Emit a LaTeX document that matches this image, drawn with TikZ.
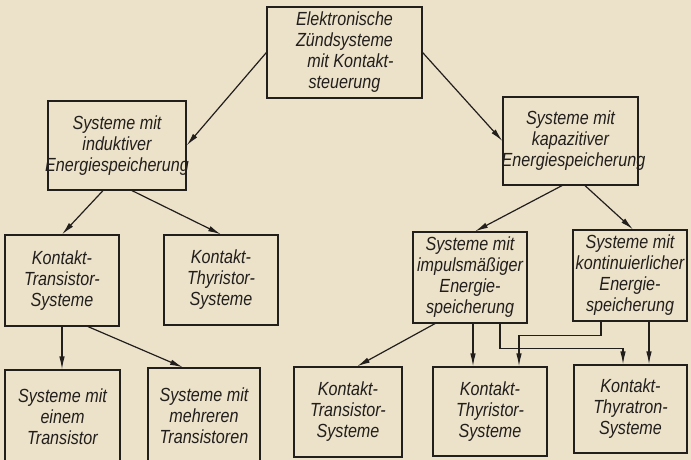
\documentclass[tikz,border=0pt]{standalone}
\usepackage{fontspec}
\setmainfont{Liberation Sans}[FakeStretch=0.85]
\usepackage{tikz}
\usetikzlibrary{arrows.meta, calc}

\definecolor{paper}{RGB}{236,226,202}
\definecolor{ink}{RGB}{34,30,28}

\newcommand{\wideword}[1]{\makebox[128pt][c]{#1}}

\begin{document}
\begin{tikzpicture}[x=1pt, y=-1pt,
    box/.style 2 args={draw=ink, line width=1.2pt, minimum width=#1, minimum height=#2,
        inner sep=0pt, align=center, text=ink,
        font=\fontsize{19}{21}\selectfont\itshape},
    arr/.style={draw=ink, line width=1.2pt, -{Latex[length=13pt, width=5.5pt]}}]
        % Paper and frame
        \fill[paper] (0,0) rectangle (691,460);
        \useasboundingbox (0,0) rectangle (691,460);
        \clip (0,0) rectangle (691,460);

        % Top level
        \node[box={155pt}{91pt}] (top) at (344.5,52.5) {Elektronische\\Zündsysteme\\\hspace*{12pt}mit Kontakt-\\steuerung};

        % Second level
        \node[box={138pt}{89pt}] (ind) at (117,145.5) {Systeme mit\\induktiver\\\wideword{Energiespeicherung}};
        \node[box={135pt}{88pt}] (kap) at (570.5,141) {Systeme mit\\kapazitiver\\\wideword{\hspace*{6pt}Energiespeicherung}};

        % Third level
        \node[box={114pt}{91pt}] (ktsL) at (62,280.5) {Kontakt-\\Transistor-\\Systeme};
        \node[box={114pt}{90pt}] (kthyL) at (221,280) {Kontakt-\\Thyristor-\\Systeme};
        \node[box={114pt}{91pt}] (imp) at (470,277.5) {Systeme mit\\impulsmäßiger\\Energie-\\speicherung};
        \node[box={114pt}{91pt}] (kont) at (630,275.5) {Systeme mit\\kontinuierlicher\\Energie-\\speicherung};

        % Bottom level
        \node[box={115pt}{94pt}] (einem) at (62.5,417) {Systeme mit\\einem\\Transistor};
        \node[box={112pt}{96pt}] (mehr) at (204,416) {Systeme mit\\mehreren\\Transistoren};
        \node[box={108pt}{90pt}] (ktsR) at (348,412) {Kontakt-\\Transistor-\\Systeme};
        \node[box={114pt}{89pt}] (kthyR) at (490,411.5) {Kontakt-\\Thyristor-\\Systeme};
        \node[box={113pt}{88pt}] (kthr) at (630.5,409) {Kontakt-\\Thyratron-\\Systeme};

        % Arrows from the top
        \draw[arr] (top.west) -- (ind.east);
        \draw[arr] (top.east) -- (kap.west);

        % Inductive branch
        \draw[arr] ([xshift=-14pt]ind.south) -- (ktsL.north);
        \draw[arr] ([xshift=15pt]ind.south) -- (kthyL.north);
        \draw[arr] (ktsL.south) -- (ktsL.south |- einem.north);
        \draw[arr] ([xshift=26pt]ktsL.south) -- ([xshift=-21pt]mehr.north);

        % Capacitive branch
        \draw[arr] ([xshift=-8.5pt]kap.south) -- ([xshift=5pt]imp.north);
        \draw[arr] ([xshift=14.5pt]kap.south) -- ([xshift=3pt]kont.north);
        \draw[arr] ([xshift=-35pt]imp.south) -- ([xshift=9pt]ktsR.north);
        \draw[arr] ([xshift=3pt]imp.south) -- ([xshift=3pt]imp.south |- kthyR.north);
        \draw[arr] ([xshift=30pt]imp.south) -- ++(0,25) -| ([xshift=-7.5pt]kthr.north);
        \draw[arr] ([xshift=-29pt]kont.south) -- ++(0,14) -| ([xshift=29pt]kthyR.north);
        \draw[arr] ([xshift=19pt]kont.south) -- ([xshift=19pt]kont.south |- kthr.north);

    \end{tikzpicture}
\end{document}
